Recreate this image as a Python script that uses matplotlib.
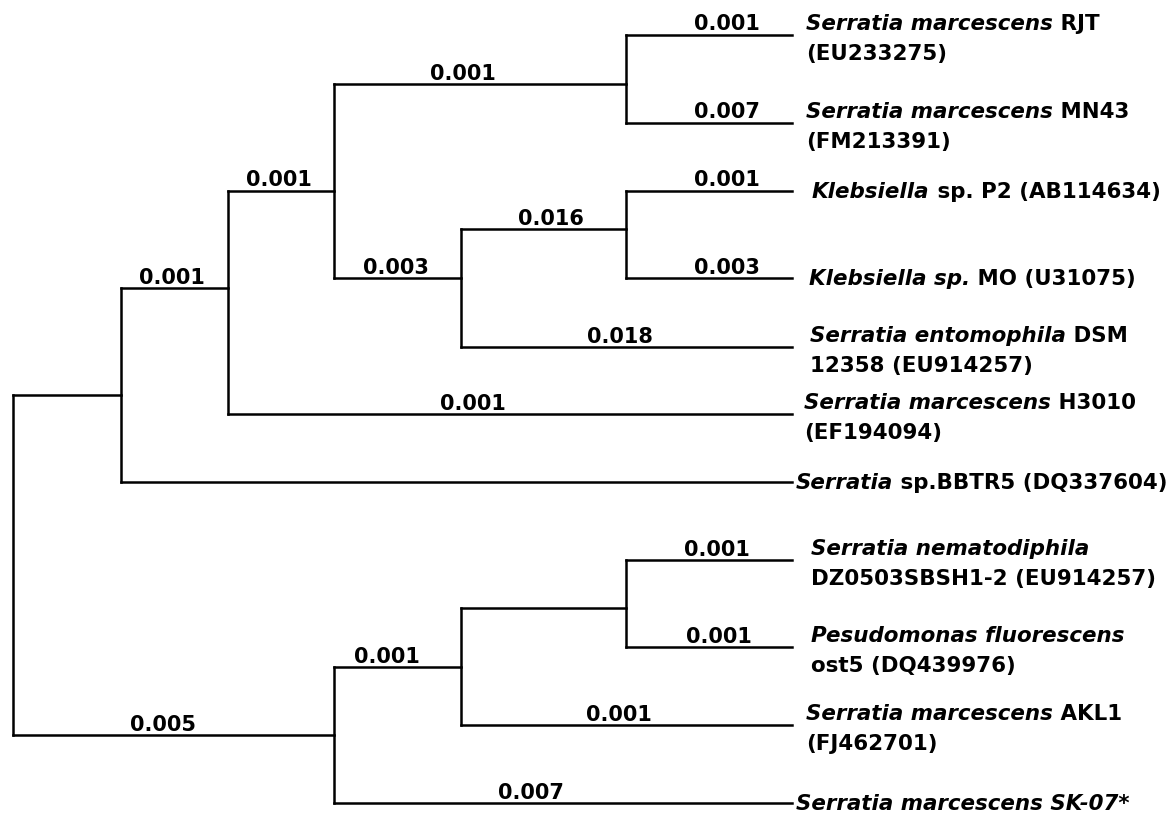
import matplotlib
matplotlib.use("Agg")
import matplotlib.pyplot as plt

# ---------------- data ----------------
# tree topology: child -> parent
parents = {
    "A": "root", "B": "A", "C": "B", "D": "C", "E": "C", "F": "E",
    "G": "root", "H": "G", "I": "H",
    "RJT": "D", "MN43": "D", "P2": "F", "MO": "F", "ENTO": "E",
    "H3010": "B", "BBTR5": "A", "NEMA": "I", "PESU": "I", "AKL1": "H", "SK07": "G",
}
# branch length labels (None = unlabelled)
branch_labels = {
    "A": None, "B": "0.001", "C": "0.001", "D": "0.001", "E": "0.003",
    "F": "0.016", "G": "0.005", "H": "0.001", "I": None,
    "RJT": "0.001", "MN43": "0.007", "P2": "0.001", "MO": "0.003",
    "ENTO": "0.018", "H3010": "0.001", "BBTR5": None, "NEMA": "0.001",
    "PESU": "0.001", "AKL1": "0.001", "SK07": "0.007",
}
leaves = ["RJT", "MN43", "P2", "MO", "ENTO", "H3010", "BBTR5",
          "NEMA", "PESU", "AKL1", "SK07"]
# leaf names: list of lines, each line a list of (text, italic?)
leaf_text = {
    "RJT":   [[("Serratia marcescens", True), (" RJT", False)], [("(EU233275)", False)]],
    "MN43":  [[("Serratia marcescens", True), (" MN43", False)], [("(FM213391)", False)]],
    "P2":    [[("Klebsiella", True), (" sp. P2 (AB114634)", False)]],
    "MO":    [[("Klebsiella sp.", True), (" MO (U31075)", False)]],
    "ENTO":  [[("Serratia entomophila", True), (" DSM", False)], [("12358 (EU914257)", False)]],
    "H3010": [[("Serratia marcescens", True), (" H3010", False)], [("(EF194094)", False)]],
    "BBTR5": [[("Serratia", True), (" sp.BBTR5 (DQ337604)", False)]],
    "NEMA":  [[("Serratia nematodiphila", True)], [("DZ0503SBSH1-2 (EU914257)", False)]],
    "PESU":  [[("Pesudomonas fluorescens", True)], [("ost5 (DQ439976)", False)]],
    "AKL1":  [[("Serratia marcescens", True), (" AKL1", False)], [("(FJ462701)", False)]],
    "SK07":  [[("Serratia marcescens SK-07*", True)]],
}

# ---------------- layout (pixel space) ----------------
col_x = [13, 121, 228, 334, 461, 626, 792]
node_col = {"root": 0, "A": 1, "B": 2, "C": 3, "G": 3, "E": 4, "H": 4,
            "D": 5, "F": 5, "I": 5}
for lf in leaves:
    node_col[lf] = 6
node_y = {"A": 395, "B": 288, "C": 191, "D": 84, "E": 278, "F": 229,
          "G": 735, "H": 667, "I": 608,
          "RJT": 35, "MN43": 123, "P2": 191, "MO": 278, "ENTO": 347,
          "H3010": 414, "BBTR5": 482, "NEMA": 560, "PESU": 647,
          "AKL1": 725, "SK07": 803}
label_x = {"B": 172, "C": 279, "D": 463, "E": 396, "F": 551, "G": 163,
           "H": 387, "RJT": 727, "MN43": 727, "P2": 727, "MO": 727,
           "ENTO": 620, "H3010": 473, "NEMA": 717, "PESU": 719,
           "AKL1": 619, "SK07": 531}
text_x = {"RJT": 806, "MN43": 806, "P2": 812, "MO": 809, "ENTO": 810,
          "H3010": 804, "BBTR5": 796, "NEMA": 811, "PESU": 811,
          "AKL1": 806, "SK07": 796}

LW = 1.8
FS_LEAF = 15.4
FS_BR = 15
FONT = "DejaVu Sans"

fig = plt.figure(figsize=(11.73, 8.13), dpi=100)
ax = fig.add_axes([0, 0, 1, 1])
ax.set_xlim(0, 1173)
ax.set_ylim(813, 0)
ax.axis("off")

def xof(n):
    return col_x[node_col[n]]

# horizontal branches
for child, par in parents.items():
    y = node_y[child]
    ax.plot([xof(par), xof(child)], [y, y], color="black", lw=LW,
            solid_capstyle="projecting")
    lab = branch_labels[child]
    if lab:
        ax.text(label_x[child], y - 4.5, lab, ha="center", va="baseline",
                fontsize=FS_BR, fontweight="bold", family=FONT)

# vertical connectors
children = {}
for child, par in parents.items():
    children.setdefault(par, []).append(child)
for par, ch in children.items():
    ys = [node_y[c] for c in ch]
    ax.plot([xof(par), xof(par)], [min(ys), max(ys)], color="black", lw=LW,
            solid_capstyle="projecting")

# leaf labels
def draw_line(x, y, pieces):
    prev = None
    for s, it in pieces:
        kw = dict(fontsize=FS_LEAF, fontweight="bold", family=FONT,
                  fontstyle="italic" if it else "normal", ha="left")
        if prev is None:
            prev = ax.text(x, y, s, va="baseline", **kw)
        else:
            prev = ax.annotate(s, xy=(1, 0), xycoords=prev, va="bottom", **kw)

for lf in leaves:
    y = node_y[lf]
    lines = leaf_text[lf]
    x = text_x[lf]
    if len(lines) == 1:
        draw_line(x, y + 7, lines[0])
    else:
        draw_line(x, y - 5, lines[0])
        draw_line(x, y + 25, lines[1])

fig.savefig("out.png", dpi=100, facecolor="white")
